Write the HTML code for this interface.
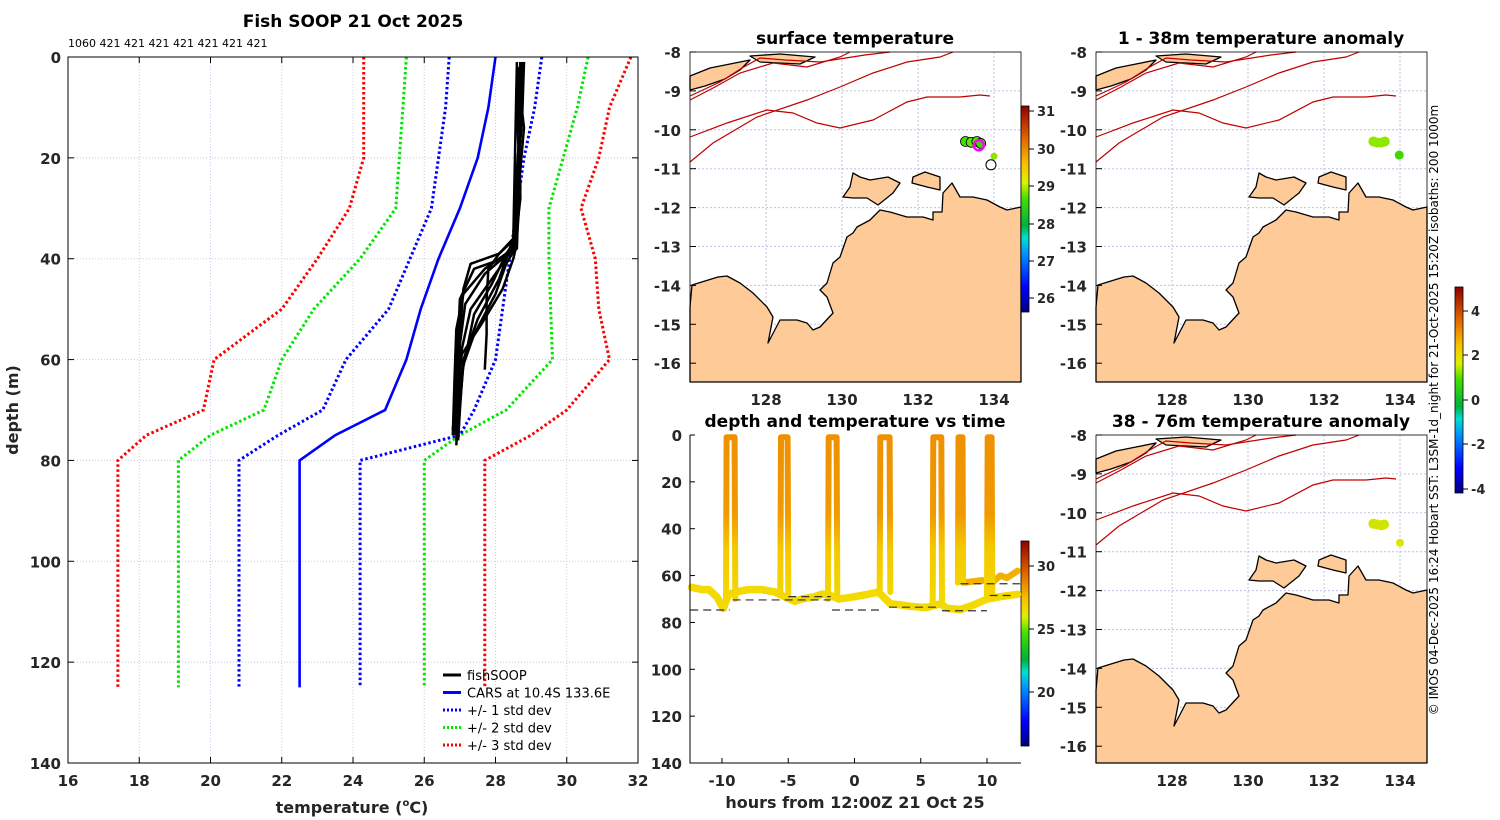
<!DOCTYPE html>
<html><head><meta charset="utf-8"><style>
html,body{margin:0;padding:0;background:#fff;}
svg{display:block;font-family:"DejaVu Sans","Liberation Sans",sans-serif;font-weight:bold;}
</style></head><body>
<svg id="fig" width="1500" height="820" viewBox="0 0 1500 820" xmlns="http://www.w3.org/2000/svg">
<defs>
<linearGradient id="jet" x1="0" y1="1" x2="0" y2="0">
<stop offset="0" stop-color="#00007f"/><stop offset="0.12" stop-color="#0000ff"/><stop offset="0.28" stop-color="#0090ff"/><stop offset="0.36" stop-color="#00e0d0"/><stop offset="0.42" stop-color="#00b040"/><stop offset="0.55" stop-color="#40e000"/><stop offset="0.63" stop-color="#e0f000"/><stop offset="0.72" stop-color="#f8c000"/><stop offset="0.85" stop-color="#e06000"/><stop offset="1" stop-color="#8f0000"/>
</linearGradient>
<linearGradient id="castgrad" gradientUnits="userSpaceOnUse" x1="0" y1="435" x2="0" y2="610">
<stop offset="0" stop-color="#ef9000"/><stop offset="0.45" stop-color="#f09a00"/><stop offset="0.65" stop-color="#f4c800"/><stop offset="1" stop-color="#f4dc00"/>
</linearGradient>
</defs>
</svg>
<script>
// ---------- data: left panel profiles ----------
const stdDepths=[0,10,20,30,40,50,60,70,75,80,125];
const carsMean=[28.0,27.8,27.5,27.0,26.4,25.9,25.5,24.9,23.5,22.5,22.5];
const sd1Lo=[26.7,26.6,26.4,26.2,25.6,25.0,23.8,23.15,21.9,20.8,20.8];
const sd1Hi=[29.3,29.1,28.8,28.6,28.4,28.2,28.0,27.4,27.0,24.2,24.2];
const sd2Lo=[25.5,25.4,25.3,25.2,24.2,22.9,22.0,21.5,20.0,19.1,19.1];
const sd2Hi=[30.6,30.3,29.9,29.5,29.5,29.55,29.6,28.3,27.0,26.0,26.0];
const sd3Lo=[24.3,24.3,24.3,23.9,23.0,22.0,20.1,19.8,18.2,17.4,17.4];
const sd3Hi=[31.8,31.2,30.9,30.4,30.8,30.9,31.2,30.0,29.0,27.7,27.7];
const fishDepths=[
 [1,12,25,36,39,41,46,55,66,76],
 [1,10,22,37,40,44,50,58,68,75],
 [2,14,26,38,40,42,48,56,65,74],
 [1,11,24,36,38,44,52,60,70,76],
 [3,15,28,37,39,43,49,57,67,75],
 [1,12,23,37,40,46,53,59,66,74],
 [2,13,27,37,39,45,51,63,71,77],
 [1,11,26,36,38,42,47,54,64,75],
 [2,12,24,38,41,47,55,61,69,76],
 [1,36,39,42,48,55,62]
];
const fishTemps=[
 [28.7,28.75,28.6,28.55,28.1,27.3,27.1,27.0,26.95,26.9],
 [28.8,28.6,28.7,28.5,28.3,27.9,27.3,27.05,26.9,26.85],
 [28.6,28.8,28.65,28.6,28.2,27.4,27.0,26.95,26.9,26.8],
 [28.75,28.7,28.6,28.5,28.4,28.1,27.5,27.1,27.0,26.95],
 [28.7,28.65,28.7,28.55,28.35,27.7,27.15,27.0,26.9,26.85],
 [28.8,28.75,28.6,28.6,28.5,28.2,27.6,27.05,26.95,26.9],
 [28.65,28.7,28.55,28.5,28.3,27.9,27.4,27.05,26.95,26.9],
 [28.7,28.6,28.7,28.6,28.5,27.7,27.1,26.9,26.85,26.8],
 [28.6,28.7,28.6,28.55,28.3,28.0,27.4,27.1,27.0,26.95],
 [28.6,28.5,28.1,27.8,27.75,27.75,27.7]
];
const countLabels=["1060","421","421","421","421","421","421","421"];
// ---------- data: time panel ----------
const castStart=[-9.7,-5.6,-2.0,1.9,5.9,7.8,10.0];
const castEnd=[-9.0,-5.0,-1.3,2.7,6.6,8.2,10.4];
const castBottom=[70,68,70,67,72,63,70];
const trackHours=[-12.3,-11.5,-11,-10.4,-9.9,-9.5,-9.0,-8.0,-7.0,-6.0,-5.3,-4.5,-4.0,-3.0,-2.5,-2.0,-1.2,-0.5,0,1.0,1.8,2.7,3.5,4.0,5.0,5.5,6.5,7.0,8.0,9.0,10.0,11.0,12.3];
const trackDepth=[65,66,66,69,74,68,67,66,66,67,69,71,70,69,68,68,70,69.5,69,68,67,72,72.5,73,73.5,73.5,72,74,74.5,72.5,70,69,68];
const shallowHours=[8.2,9.0,9.6,10.4,11.0,11.5,12.3];
const shallowDepth=[63,62.5,62,63,60,61,58];
const dashStart=[-12.4,-9.2,-5.0,-1.7,2.6,6.6,10.2,8.0];
const dashEnd=[-9.4,-1.8,-1.8,2.0,6.4,10.0,12.0,12.5];
const dashDepth=[74.7,70.4,69,74.7,73.5,75,68.5,63.5];
// ---------- data: map observations (lon, lat) ----------
const sstLon=[133.25,133.4,133.55,133.65,134.0];
const sstLat=[-10.3,-10.32,-10.3,-10.35,-10.68];
const sstColor=["#40e000","#60e800","#50e000","#40d800","#90e000"];
const anom1Lon=[133.3,133.4,133.5,133.6,133.98];
const anom1Lat=[-10.3,-10.33,-10.33,-10.3,-10.65];
const anom2Lon=[133.3,133.4,133.5,133.58,134.0];
const anom2Lat=[-10.28,-10.3,-10.32,-10.3,-10.77];

const NS='http://www.w3.org/2000/svg';
const svg=document.getElementById('fig');
function E(tag,a,p){const e=document.createElementNS(NS,tag);for(const k in a)e.setAttribute(k,a[k]);(p||svg).appendChild(e);return e;}
function T(txt,a,p){const e=E('text',a,p);e.textContent=txt;return e;}
function pts(xs,ys){return xs.map((x,i)=>x.toFixed(1)+','+ys[i].toFixed(1)).join(' ');}

// ================= LEFT PANEL =================
const L={x0:68,x1:638,y0:57,y1:763};
const xT=t=>L.x0+(t-16)*(L.x1-L.x0)/16;
const yD=d=>L.y0+d*(L.y1-L.y0)/140;
const gL=E('g',{});


let t=T('Fish SOOP 21 Oct 2025',{x:353,y:27,'font-size':17,'text-anchor':'middle'},gL);


t=T(countLabels.join(' '),{x:68,y:47,'font-size':11,'font-weight':'normal'},gL);


for(let v=18;v<=30;v+=2){
 const l=E('line',{x1:xT(v),x2:xT(v),y1:L.y0,y2:L.y1,stroke:(v%4==2?'#e8c0c0':'#c8c8e8'),'stroke-width':1,'stroke-dasharray':'1 2'},gL);
 
 
}
for(let d=20;d<140;d+=20){
 const l=E('line',{x1:L.x0,x2:L.x1,y1:yD(d),y2:yD(d),stroke:'#c8c8e8','stroke-width':1,'stroke-dasharray':'1 2'},gL);
 
 
}
const series=[[sd3Lo,'#ff0000'],[sd3Hi,'#ff0000'],[sd2Lo,'#00e600'],[sd2Hi,'#00e600'],[sd1Lo,'#0000ff'],[sd1Hi,'#0000ff']];
series.forEach(s=>{
 const p=E('polyline',{points:pts(s[0].map(xT),stdDepths.map(yD)),fill:'none',stroke:s[1],'stroke-width':3,'stroke-dasharray':'2.5 2.5'},gL);
 
 
});
let cm=E('polyline',{points:pts(carsMean.map(xT),stdDepths.map(yD)),fill:'none',stroke:'#0000ff','stroke-width':2.6},gL);


fishDepths.forEach((ds,i)=>{
 const p=E('polyline',{points:pts(fishTemps[i].map(xT),ds.map(yD)),fill:'none',stroke:'#000','stroke-width':2.5,'stroke-linejoin':'round'},gL);
 
 
});
let fr=E('rect',{x:L.x0,y:L.y0,width:L.x1-L.x0,height:L.y1-L.y0,fill:'none',stroke:'#000','stroke-width':1},gL);


for(let v=16;v<=32;v+=2){
 const k=E('line',{x1:xT(v),x2:xT(v),y1:L.y1,y2:L.y1-6,stroke:'#000'},gL);
 
 
 const k2=E('line',{x1:xT(v),x2:xT(v),y1:L.y0,y2:L.y0+6,stroke:'#000'},gL);
 
 
 const lb=T(String(v),{x:xT(v),y:786,'font-size':15,'text-anchor':'middle',fill:'#262626'},gL);
 
 
}
for(let d=0;d<=140;d+=20){
 const k=E('line',{x1:L.x0,x2:L.x0+6,y1:yD(d),y2:yD(d),stroke:'#000'},gL);
 
 
 const k2=E('line',{x1:L.x1,x2:L.x1-6,y1:yD(d),y2:yD(d),stroke:'#000'},gL);
 
 
 const lb=T(String(d),{x:61,y:yD(d)+6,'font-size':15,'text-anchor':'end',fill:'#262626'},gL);
 
 
}
let xt=E('text',{x:352,y:813,'font-size':16,'text-anchor':'middle',fill:'#262626'},gL);


let ts1=E('tspan',{},xt);ts1.textContent='temperature (';
let ts2=E('tspan',{'font-size':10,dy:-7},xt);ts2.textContent='o';
let ts3=E('tspan',{dy:7},xt);ts3.textContent='C)';
let yt=T('depth (m)',{x:18,y:410,'font-size':16,'text-anchor':'middle',fill:'#262626',transform:'rotate(-90 18 410)'},gL);


// legend
const legItems=[['fishSOOP','#000',''],['CARS at 10.4S 133.6E','#0000ff',''],['+/- 1 std dev','#0000ff','2 2'],['+/- 2 std dev','#00e600','2 2'],['+/- 3 std dev','#ff0000','2 2']];
const lg=E('g',{},gL);


legItems.forEach((it,i)=>{
 const y=675+i*17.5;
 const ln=E('line',{x1:443,x2:461,y1:y,y2:y,stroke:it[1],'stroke-width':3,'stroke-dasharray':it[2]},lg);
 
 
 const tx=T(it[0],{x:467,y:y+5,'font-size':13,'font-weight':'normal'},lg);
 
 
});

// ================= MAPS =================
const coast=[[0,255],[2,233],[28,225],[37,224],[50,231],[63,241],[77,255],[83,265],[78,291],[90,268],[107,268],[117,271],[123,278],[130,275],[143,261],[137,245],[130,238],[137,231],[143,211],[150,205],[157,185],[163,181],[167,175],[180,168],[190,158],[200,160],[217,165],[233,165],[243,168],[243,160],[252,160],[253,141],[262,131],[270,145],[283,145],[297,148],[310,155],[317,158],[331,155],[331,330],[0,330]];
const isl1=[[153,145],[160,135],[163,121],[170,125],[180,128],[198,125],[210,131],[203,141],[188,153],[177,146],[163,146]];
const isl2=[[223,125],[235,120],[250,125],[250,138],[237,135],[222,131]];
const timor=[[0,24],[20,16],[40,12],[60,8],[50,18],[35,27],[15,34],[0,38]];
const topIsl=[[60,4],[90,2],[125,5],[110,12],[70,10]];
const iso=[
 [[0,85],[37,71],[77,58],[103,61],[127,71],[150,76],[183,68],[217,50],[237,45],[270,45],[290,43],[300,44]],
 [[0,110],[23,91],[67,65],[117,48],[150,35],[183,21],[217,10],[250,5],[263,0]],
 [[0,48],[25,35],[50,21],[83,11],[117,15],[150,5],[160,0]],
 [[0,44],[30,30],[52,16],[70,6],[95,8],[130,10],[175,3],[200,0]]
];
function P(a){return a.map(p=>p[0]+','+p[1]).join(' ');}
function drawMap(ox,oy,h,title,name,showLonLabels){
 const g=E('g',{transform:`translate(${ox},${oy})`});
 
 
 const deg=38, dlat=38.9;
 const lx=lon=>(lon-126)*deg, ly=lat=>(-8-lat)*dlat;
 for(let lon=128;lon<=134;lon+=2){const l=E('line',{x1:lx(lon),x2:lx(lon),y1:0,y2:h,stroke:'#c0c0e0','stroke-dasharray':'2 2'},g);}
 for(let lat=-9;lat>=-16;lat--){const l=E('line',{x1:0,x2:331,y1:ly(lat),y2:ly(lat),stroke:'#c0c0e0','stroke-dasharray':'2 2'},g);}
 [coast,isl1,isl2,timor,topIsl].forEach(c=>{
  const cc=c.map(p=>[p[0],Math.min(p[1],h)]);
  const pl=E('polygon',{points:P(cc),fill:'#fdca98',stroke:'#000','stroke-width':1.3,'stroke-linejoin':'round'},g);
  
  
 });
 iso.forEach(c=>{
  const pl=E('polyline',{points:P(c),fill:'none',stroke:'#c00000','stroke-width':1.2},g);
  
  
 });
 const fr=E('rect',{x:0,y:0,width:331,height:h,fill:'none',stroke:'#000','stroke-width':0.8},g);
 
 
 const tt=T(title,{x:165,y:-8,'font-size':17,'text-anchor':'middle'},g);
 
 
 for(let lat=-8;lat>=-16;lat--){
  const k=E('line',{x1:0,x2:6,y1:ly(lat),y2:ly(lat),stroke:'#000'},g);
  const lb=T(String(lat),{x:-9,y:ly(lat)+6,'font-size':15,'text-anchor':'end',fill:'#262626'},g);
 }
 if(showLonLabels){for(let lon=128;lon<=134;lon+=2){
  const lb=T(String(lon),{x:lx(lon),y:h+23,'font-size':15,'text-anchor':'middle',fill:'#262626'},g);
 }}
 return {g,lx,ly};
}
const m1=drawMap(690,52,330,'surface temperature','sst-map',true);
const m2=drawMap(1096,52,330,'1 - 38m temperature anomaly','anomaly-map-1-38m',true);
const m3=drawMap(1096,435,328,'38 - 76m temperature anomaly','anomaly-map-38-76m',true);
sstLon.forEach((lon,i)=>{
 const c=E('circle',{cx:m1.lx(lon),cy:m1.ly(sstLat[i]),r:i==4?3.5:5,fill:sstColor[i],stroke:i==4?'none':'#000','stroke-width':0.8},m1.g);
 
 
});
let ring=E('circle',{cx:m1.lx(133.6),cy:m1.ly(-10.4),r:5,fill:'none',stroke:'#ff00ff','stroke-width':2.5},m1.g);


let wc=E('circle',{cx:m1.lx(133.92),cy:m1.ly(-10.9),r:5,fill:'#fff',stroke:'#000','stroke-width':1},m1.g);


anom1Lon.forEach((lon,i)=>{
 const c=E('circle',{cx:m2.lx(lon),cy:m2.ly(anom1Lat[i]),r:i==4?4.5:5,fill:i==4?'#40d800':'#90e800'},m2.g);
 
 
});
anom2Lon.forEach((lon,i)=>{
 const c=E('circle',{cx:m3.lx(lon),cy:m3.ly(anom2Lat[i]),r:i==4?4:5,fill:i==4?'#d8e800':'#d0e400'},m3.g);
 
 
});

// ================= COLORBARS =================
function colorbar(x,y,h,ticks,ypos,name){
 const g=E('g',{});
 
 
 const r=E('rect',{x:x,y:y,width:8,height:h,fill:'url(#jet)',stroke:'#000','stroke-width':0.8},g);
 
 
 ticks.forEach((v,i)=>{
  const k=E('line',{x1:x+8,x2:x+13,y1:ypos[i],y2:ypos[i],stroke:'#000'},g);
  
  
  const lb=T(String(v),{x:x+16,y:ypos[i]+5,'font-size':13,fill:'#262626'},g);
  
  
 });
}
colorbar(1021,106,206,[31,30,29,28,27,26],[111,149,186,224,261,298],'sst-colorbar');
colorbar(1021,541,205,[30,25,20],[566,629,692],'time-colorbar');
colorbar(1455,287,206,[4,2,0,-2,-4],[311,355,400,444,489],'anomaly-colorbar');

// ================= TIME PANEL =================
const TP={x0:690,x1:1021,y0:435,y1:763};
const xH=h=>854.5+h*13.25;
const yZ=d=>TP.y0+d*(TP.y1-TP.y0)/140;
const gT=E('g',{});


let tt2=T('depth and temperature vs time',{x:855,y:427,'font-size':17,'text-anchor':'middle'},gT);


let tr=E('polyline',{points:pts(trackHours.map(xH),trackDepth.map(yZ)),fill:'none',stroke:'#f3da00','stroke-width':7.5,'stroke-linejoin':'round','stroke-linecap':'round'},gT);


let sh=E('polyline',{points:pts(shallowHours.map(xH),shallowDepth.map(yZ)),fill:'none',stroke:'#f2b000','stroke-width':6.5,'stroke-linejoin':'round','stroke-linecap':'round'},gT);


castStart.forEach((h0,i)=>{
 const h1=castEnd[i];
 const xs=[h0,h0+0.05,h1-0.05,h1].map(xH);
 const ds=[castBottom[i],1,1,castBottom[i]].map(yZ);
 const p=E('polyline',{points:pts(xs,ds),fill:'none',stroke:'url(#castgrad)','stroke-width':6,'stroke-linejoin':'round','stroke-linecap':'round'},gT);
 
 
});
dashStart.forEach((h0,i)=>{
 const l=E('line',{x1:xH(h0),x2:xH(dashEnd[i]),y1:yZ(dashDepth[i]),y2:yZ(dashDepth[i]),stroke:'#333','stroke-width':1.2,'stroke-dasharray':'8 5'},gT);
 
 
});
let tf=E('polyline',{points:`${TP.x0},${TP.y0} ${TP.x0},${TP.y1} ${TP.x1},${TP.y1}`,fill:'none',stroke:'#000','stroke-width':1},gT);


for(let d=0;d<=140;d+=20){
 const k=E('line',{x1:TP.x0,x2:TP.x0+5,y1:yZ(d),y2:yZ(d),stroke:'#000'},gT);
 const lb=T(String(d),{x:682,y:yZ(d)+6,'font-size':15,'text-anchor':'end',fill:'#262626'},gT);
}
for(let h=-10;h<=10;h+=5){
 const k=E('line',{x1:xH(h),x2:xH(h),y1:TP.y1,y2:TP.y1-5,stroke:'#000'},gT);
 const lb=T(String(h),{x:xH(h),y:786,'font-size':15,'text-anchor':'middle',fill:'#262626'},gT);
}
let txa=T('hours from 12:00Z 21 Oct 25',{x:855,y:808,'font-size':16,'text-anchor':'middle',fill:'#262626'},gT);



// credit text
let cr=T('© IMOS 04-Dec-2025 16:24 Hobart SST: L3SM-1d_night for 21-Oct-2025 15:20Z isobaths: 200  1000m',{x:1438,y:410,'font-size':12,'font-weight':'normal','text-anchor':'middle',transform:'rotate(-90 1438 410)','xml:space':'preserve'});


</script>
</body></html>
